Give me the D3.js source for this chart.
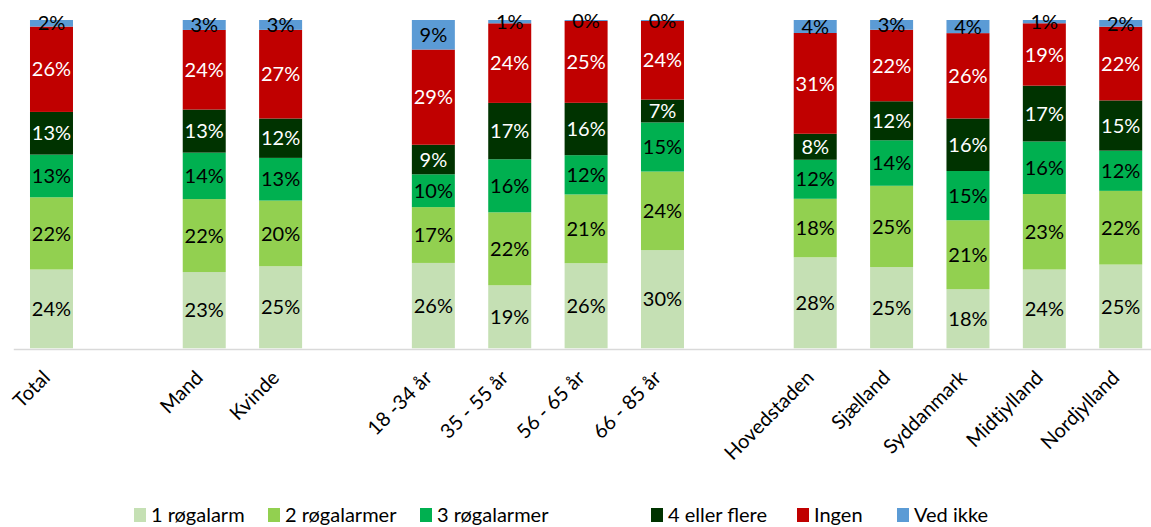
<!DOCTYPE html>
<html><head><meta charset="utf-8">
<script src="https://cdn.jsdelivr.net/npm/d3@7"></script>
<style>body{margin:0;background:#fff}svg{display:block}text{font-family:Lato,"Open Sans",sans-serif}</style>
</head><body><svg id="c" width="1151" height="527"></svg>
<script>
const categories = ["Total","","Mand","Kvinde","","18 -34 år","35 - 55 år","56 - 65 år","66 - 85 år","","Hovedstaden","Sjælland","Syddanmark","Midtjylland","Nordjylland"];
const seriesNames = ["1 røgalarm","2 røgalarmer","3 røgalarmer","4 eller flere","Ingen","Ved ikke"];
const s1 = [24,null,23,25,null,26,19,26,30,null,28,25,18,24,25];
const s2 = [22,null,22,20,null,17,22,21,24,null,18,25,21,23,22];
const s3 = [13,null,14,13,null,10,16,12,15,null,12,14,15,16,12];
const s4 = [13,null,13,12,null,9,17,16,7,null,8,12,16,17,15];
const ingen = [26,null,24,27,null,29,24,25,24,null,31,22,26,19,22];
const vedIkke = [2,null,3,3,null,9,1,0.3,0.3,null,4,3,4,1,2];
const seriesValues = [s1,s2,s3,s4,ingen,vedIkke];
const colors = ["#C5E0B4","#92D050","#00B050","#003300","#C00000","#5B9BD5"];
const labelColors = ["#000","#000","#000","#fff","#fff","#000"];

const svg = d3.select("#c");
const idx = d3.range(categories.length);
const x = d3.scaleBand().domain(idx).range([13.3, 1158.9]).paddingInner(0.437).paddingOuter(0.2185);
const y = d3.scaleLinear().domain([0,1]).range([348.3, 20]);

const rows = idx.filter(i => s1[i] !== null).map(i => {
  const o = {i};
  const tot = d3.sum(seriesValues, s => s[i]);
  seriesNames.forEach((n,k) => o[n] = seriesValues[k][i] / tot);
  return o;
});
const stack = d3.stack().keys(seriesNames)(rows);

const g = svg.append("g");
stack.forEach((layer,k) => {
  g.selectAll(null).data(layer).join("rect")
    .attr("x", d => x(d.data.i)).attr("width", x.bandwidth())
    .attr("y", d => y(d[1])).attr("height", d => y(d[0]) - y(d[1]))
    .attr("fill", colors[k]);
});

const axis = d3.axisBottom(x).tickSize(0).tickSizeOuter(0)
  .tickValues(idx.filter(i => categories[i] !== "")).tickFormat(i => categories[i]);
const ax = svg.append("g").attr("transform","translate(0,349)").call(axis);
ax.select(".domain").attr("stroke","#d9d9d9").attr("stroke-width",1.5);
ax.selectAll(".tick text").attr("font-size","20px").attr("fill","#000")
  .attr("font-family","Lato, sans-serif")
  .attr("text-anchor","end").attr("dy","0.35em").attr("y",0)
  .attr("transform","translate(-5,25) rotate(-45)");

stack.forEach((layer,k) => {
  g.selectAll(null).data(layer).join("text")
    .attr("x", d => x(d.data.i) + x.bandwidth()/2)
    .attr("y", d => (y(d[0]) + y(d[1]))/2)
    .attr("dy","0.36em").attr("text-anchor","middle")
    .attr("font-size","20px").attr("fill", labelColors[k])
    .text(d => Math.round(seriesValues[k][d.data.i]) + "%");
});

const legendX = [134, 268, 420, 651, 797, 897];
const lg = svg.append("g");
seriesNames.forEach((n,k) => {
  lg.append("rect").attr("x", legendX[k]).attr("y", 508).attr("width", 12).attr("height", 14).attr("fill", colors[k]);
  lg.append("text").attr("x", legendX[k] + 17).attr("y", 522).attr("font-size","20px").attr("fill","#000").text(n);
});
</script></body></html>
